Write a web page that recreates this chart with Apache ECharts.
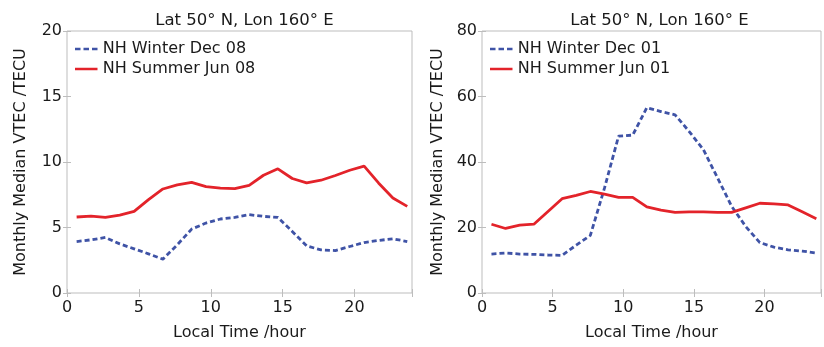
<!DOCTYPE html>
<html>
<head>
<meta charset="utf-8">
<script src="https://cdn.jsdelivr.net/npm/echarts@6/dist/echarts.min.js"></script>
<style>
  html, body { margin: 0; padding: 0; background: #fff; }
  #chart { width: 824px; height: 347px; }
</style>
</head>
<body>
<div id="chart"></div>
<script>
// Local time of each hourly sample (UT + 10.67 h at 160° E)
const localHours = [0.67, 1.67, 2.67, 3.67, 4.67, 5.67, 6.67, 7.67, 8.67, 9.67, 10.67, 11.67,
                    12.67, 13.67, 14.67, 15.67, 16.67, 17.67, 18.67, 19.67, 20.67, 21.67, 22.67, 23.67];

// 2008 medians (TECU)
const winterDec08 = [3.93, 4.06, 4.24, 3.75, 3.37, 2.99, 2.58, 3.68, 4.88, 5.34, 5.65, 5.77,
                     5.98, 5.85, 5.77, 4.70, 3.60, 3.29, 3.24, 3.55, 3.85, 4.01, 4.14, 3.93];
const summerJun08 = [5.80, 5.87, 5.77, 5.95, 6.23, 7.13, 7.94, 8.25, 8.45, 8.12, 8.00, 7.97,
                     8.22, 8.99, 9.48, 8.74, 8.40, 8.61, 8.97, 9.37, 9.68, 8.40, 7.25, 6.61];

// 2001 medians (TECU)
const winterDec01 = [11.9, 12.2, 11.9, 11.8, 11.6, 11.5, 14.6, 17.6, 32.0, 47.9, 48.2, 56.6,
                     55.4, 54.4, 49.3, 43.8, 35.2, 26.5, 20.3, 15.4, 14.0, 13.2, 12.8, 12.2];
const summerJun01 = [21.0, 19.7, 20.7, 21.0, 24.9, 28.8, 29.8, 31.0, 30.2, 29.2, 29.2, 26.3,
                     25.3, 24.6, 24.8, 24.8, 24.6, 24.6, 26.0, 27.4, 27.2, 26.9, 24.8, 22.7];

const panelTitle = 'Lat 50° N, Lon 160° E';
const xTicks = { min: 0, max: 24, interval: 5 };
const yTicksLeft = { min: 0, max: 20, interval: 5 };
const yTicksRight = { min: 0, max: 80, interval: 20 };
const seriesNames = [['NH Winter Dec 08', 'NH Summer Jun 08'], ['NH Winter Dec 01', 'NH Summer Jun 01']];

const FONT = 'DejaVu Sans';
const TXT = '#1a1a1a';
const FRAME = '#bdbdbd';
const BLUE = '#3f53a6';
const RED = '#e3232a';

const pairs = (vals) => localHours.map((h, i) => [h, vals[i]]);

const grids = [
  { left: 67, top: 31, width: 345, height: 262 },
  { left: 482, top: 31, width: 345, height: 262 }
];

function xAxes(gi) {
  const base = {
    type: 'value', gridIndex: gi, min: xTicks.min, max: xTicks.max, interval: xTicks.interval,
    axisLine: { show: false }, splitLine: { show: false },
    axisTick: { show: true, inside: true, length: 4, lineStyle: { color: FRAME, width: 1 } }
  };
  return [
    Object.assign({}, base, {
      position: 'bottom',
      name: 'Local Time /hour', nameLocation: 'middle', nameGap: 32,
      nameTextStyle: { fontFamily: FONT, fontSize: 16, color: TXT },
      axisLabel: { show: true, margin: 7, fontFamily: FONT, fontSize: 16, color: TXT,
                   formatter: v => (v % 5 === 0 ? String(v) : '') }
    }),
    Object.assign({}, base, { position: 'top', axisLabel: { show: false } })
  ];
}

function yAxes(gi, t, gap) {
  const base = {
    type: 'value', gridIndex: gi, min: t.min, max: t.max, interval: t.interval,
    axisLine: { show: false }, splitLine: { show: false },
    axisTick: { show: true, inside: true, length: 4, lineStyle: { color: FRAME, width: 1 } }
  };
  return [
    Object.assign({}, base, {
      position: 'left',
      name: 'Monthly Median VTEC /TECU', nameLocation: 'middle', nameGap: gap, nameRotate: 90,
      nameTextStyle: { fontFamily: FONT, fontSize: 16, color: TXT },
      axisLabel: { show: true, margin: 5, fontFamily: FONT, fontSize: 16, color: TXT }
    }),
    Object.assign({}, base, { position: 'right', axisLabel: { show: false } })
  ];
}

function lineSeries(name, vals, axisIdx, dashed) {
  return {
    name: name, type: 'line', xAxisIndex: axisIdx, yAxisIndex: axisIdx,
    data: pairs(vals), symbol: 'none', smooth: false, silent: true, animation: false,
    lineStyle: dashed
      ? { color: BLUE, width: 2.8, type: [5, 3] }
      : { color: RED, width: 2.8, type: 'solid' },
    itemStyle: { color: dashed ? BLUE : RED }
  };
}

const dashIcon = 'path://M0,0h5.5v2.5h-5.5z M8.5,0h5.5v2.5h-5.5z M17,0h5.5v2.5h-5.5z';
const solidIcon = 'path://M0,0h22.5v2.5h-22.5z';

function legendFor(gi, left) {
  return {
    show: true, orient: 'vertical', left: left, top: 40, padding: 0,
    itemWidth: 23, itemHeight: 2.5, itemGap: 2, selectedMode: false,
    textStyle: { fontFamily: FONT, fontSize: 16, color: TXT, lineHeight: 18 },
    data: [
      { name: seriesNames[gi][0], icon: dashIcon },
      { name: seriesNames[gi][1], icon: solidIcon }
    ]
  };
}

const option = {
  backgroundColor: '#ffffff',
  animation: false,
  title: [
    { text: panelTitle, left: 239.5, top: 7, textAlign: 'center',
      textStyle: { fontFamily: FONT, fontSize: 16.5, fontWeight: 'normal', color: TXT } },
    { text: panelTitle, left: 654.5, top: 7, textAlign: 'center',
      textStyle: { fontFamily: FONT, fontSize: 16.5, fontWeight: 'normal', color: TXT } }
  ],
  grid: grids.map(g => Object.assign({ show: true, borderColor: FRAME, borderWidth: 1, backgroundColor: 'transparent' }, g)),
  xAxis: [].concat(xAxes(0), xAxes(1)),
  yAxis: [].concat(yAxes(0, yTicksLeft, 38), yAxes(1, yTicksRight, 36)),
  legend: [legendFor(0, 75), legendFor(1, 490)],
  series: [
    lineSeries(seriesNames[0][0], winterDec08, 0, true),
    lineSeries(seriesNames[0][1], summerJun08, 0, false),
    lineSeries(seriesNames[1][0], winterDec01, 2, true),
    lineSeries(seriesNames[1][1], summerJun01, 2, false)
  ]
};

const chart = echarts.init(document.getElementById('chart'), null, { renderer: 'canvas' });
chart.setOption(option);
</script>
</body>
</html>
